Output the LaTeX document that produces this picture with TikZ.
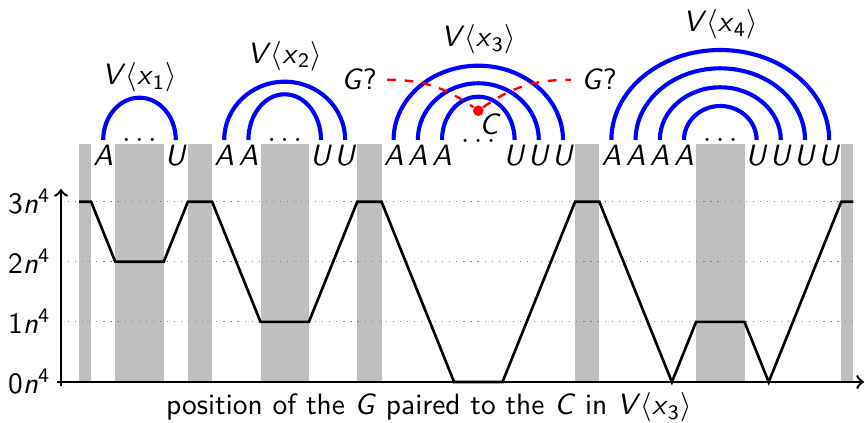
\documentclass[tikz,border=0pt]{standalone}
\usepackage{amsmath}
\renewcommand{\familydefault}{\sfdefault}
\newcommand{\mi}[1]{\textit{#1}}
\newcommand{\vx}[1]{\mi{V}$\langle$\mi{x}\textsubscript{#1}$\rangle$}
\tikzset{
  barfill/.style={fill=lightgray, draw=none},
  gridline/.style={gray, dotted, thin},
  axisline/.style={line width=0.8pt, ->},
  profile/.style={line width=0.9pt, line join=miter},
  letter/.style={anchor=base, inner sep=0pt},
  pairarc/.style={blue, line width=1.4pt},
  guess/.style={red, dashed, line width=0.8pt},
  ticklab/.style={anchor=base east, inner sep=0pt},
}
\begin{document}
\begin{tikzpicture}[x=0.34pt,y=0.34pt]
\useasboundingbox (0,0) rectangle (865,423);
% grey bars
\foreach \p/\q in {0/1,3/7,9/11,15/19,23/25,41/43,51/55,63/64}
  \fill[barfill] ({79+12.1*\p},41) rectangle ({79+12.1*\q},279);
% grid lines
\foreach \l in {101.1,161.2,221.3}
  \draw[gridline] (61,\l) -- (853,\l);
% axes
\draw[axisline] (57,41) -- (864,41);
\draw[axisline] (61,37) -- (61,234);
% tick labels
\node[ticklab] (t0) at (51,29.5) {0\mi{n}\textsuperscript{4}};
\node[ticklab] (t1) at (51,89.6) {1\mi{n}\textsuperscript{4}};
\node[ticklab] (t2) at (51,149.7) {2\mi{n}\textsuperscript{4}};
\node[ticklab] (t3) at (51,209.8) {3\mi{n}\textsuperscript{4}};
% profile
\draw[profile] (79,221.3) -- (91.1,221.3) -- (115.3,161.2) -- (163.7,161.2)
  -- (187.9,221.3) -- (212.1,221.3) -- (260.5,101.1) -- (308.9,101.1)
  -- (357.3,221.3) -- (381.5,221.3) -- (454.1,41) -- (502.5,41)
  -- (575.1,221.3) -- (599.3,221.3) -- (671.9,41) -- (696.1,101.1)
  -- (744.5,101.1) -- (768.7,41) -- (841.3,221.3) -- (853.4,221.3);
% letters
\foreach \n/\u/\t in {a2/2/A,u8/8/U,a12/12/A,a14/14/A,u20/20/U,u22/22/U,
  a26/26/A,a28/28/A,a30/30/A,u36/36/U,u38/38/U,u40/40/U,
  a44/44/A,a46/46/A,a48/48/A,a50/50/A,u56/56/U,u58/58/U,u60/60/U,u62/62/U}
  \node[letter] (\n) at ({79+12.1*\u},257) {\mi{\t}};
% dots
\node[letter] (d1) at (139.5,281) {$\ldots$};
\node[letter] (d2) at (284.7,281) {$\ldots$};
\node[letter] (d3) at (478.3,280) {$\ldots$};
\node[letter] (d4) at (720.3,281) {$\ldots$};
% pairing arcs
\draw[pairarc] ([yshift=8.84pt]a2.base) arc[start angle=180,end angle=0,x radius=36.3*0.34pt,y radius=42.3*0.34pt];
\draw[pairarc] ([yshift=8.84pt]a12.base) arc[start angle=180,end angle=0,x radius=60.5*0.34pt,y radius=58.3*0.34pt];
\draw[pairarc] ([yshift=8.84pt]a14.base) arc[start angle=180,end angle=0,x radius=36.3*0.34pt,y radius=45.7*0.34pt];
\draw[pairarc] ([yshift=8.84pt]a26.base) arc[start angle=180,end angle=0,x radius=84.7*0.34pt,y radius=74.3*0.34pt];
\draw[pairarc] ([yshift=8.84pt]a28.base) arc[start angle=180,end angle=0,x radius=60.5*0.34pt,y radius=56.7*0.34pt];
\draw[pairarc] ([yshift=8.84pt]a30.base) arc[start angle=180,end angle=0,x radius=36.3*0.34pt,y radius=43.3*0.34pt];
\draw[pairarc] ([yshift=8.84pt]a44.base) arc[start angle=180,end angle=0,x radius=108.9*0.34pt,y radius=90*0.34pt];
\draw[pairarc] ([yshift=8.84pt]a46.base) arc[start angle=180,end angle=0,x radius=84.7*0.34pt,y radius=71.7*0.34pt];
\draw[pairarc] ([yshift=8.84pt]a48.base) arc[start angle=180,end angle=0,x radius=60.5*0.34pt,y radius=52.7*0.34pt];
\draw[pairarc] ([yshift=8.84pt]a50.base) arc[start angle=180,end angle=0,x radius=36.3*0.34pt,y radius=34*0.34pt];
% labels
\node[anchor=base] (v1) at (139.5,338) {\vx{1}};
\node[anchor=base] (v2) at (284.7,359.5) {\vx{2}};
\node[anchor=base] (v3) at (478.3,376) {\vx{3}};
\node[anchor=base] (v4) at (720.3,391) {\vx{4}};
% G? guesses and C
\node[anchor=base] (g1) at (359,333) {\mi{G}?};
\node[anchor=base] (g2) at (599,333) {\mi{G}?};
\node[circle, fill=red, inner sep=0pt, minimum size=3.6pt] (dot) at (478.3,312.3) {};
\node[anchor=base] (c) at (490,288) {\mi{C}};
\draw[guess] (g1.east) to[out=0,in=145] (dot);
\draw[guess] (dot) to[out=35,in=180] (g2.west);
% axis caption
\node[anchor=base] (xl) at (429,8) {position of the \mi{G} paired to the \mi{C} in \vx{3}};
\end{tikzpicture}
\end{document}
